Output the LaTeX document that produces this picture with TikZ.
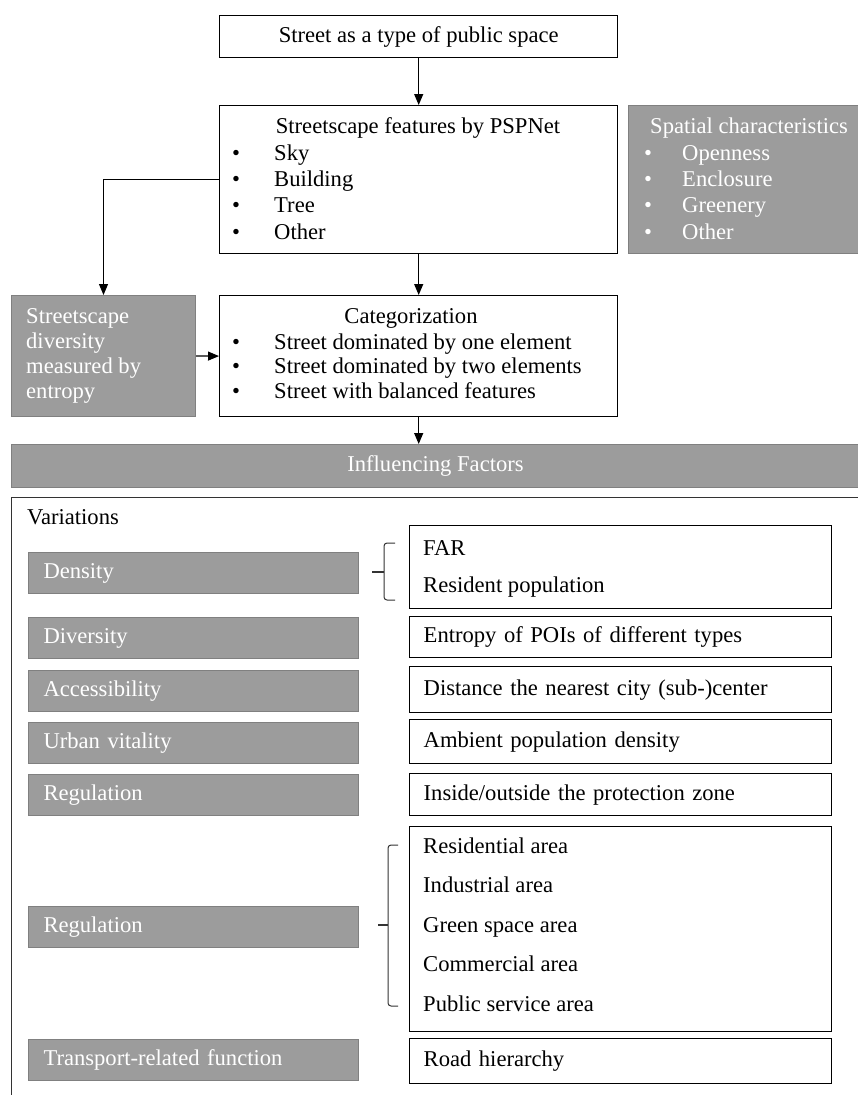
\documentclass[tikz,border=0pt]{standalone}
\usepackage{fontspec}
\setmainfont{Liberation Serif}
\usetikzlibrary{arrows.meta}
\definecolor{boxgrey}{HTML}{9C9C9C}
\definecolor{edgegrey}{HTML}{808080}
\definecolor{framegrey}{HTML}{333333}

\begin{document}
\begin{tikzpicture}[x=1pt, y=-1pt,
        font=\fontsize{22.6}{26}\selectfont,
        box/.style = {draw, line width=1.4pt, fill=white, anchor=north west, inner sep=0pt},
        greybox/.style = {draw=edgegrey, line width=1pt, fill=boxgrey, anchor=north west, inner sep=0pt, text=white},
        factor/.style = {greybox, minimum width=330, minimum height=41, text width=300, inner xsep=15, align=left},
        measure/.style = {box, minimum width=422, text width=394, inner xsep=14, align=left},
        item/.style = {anchor=base west, inner sep=0pt},
        arrow/.style = {line width=1.2pt, -{Triangle[length=11pt, width=9pt]}},
        brace/.style = {draw=framegrey, line width=1pt, rounded corners=3pt}]

    \useasboundingbox (0,0) rectangle (858,1095);
    \clip (0,0) rectangle (858,1095);

    % Street as public space
    \node[box, minimum width=398, minimum height=42] (street) at (219,15) {Street as a type of public space};

    % Streetscape features
    \node[box, minimum width=398, minimum height=148] (feat) at (219,105) {};
    \node[anchor=base, inner sep=0pt] (feat-t) at (418,133) {Streetscape features by PSPNet};
    \foreach \t [count=\i] in {Sky, Building, Tree, Other}
        \node[item] (feat-\i) at (232, {160+26.4*(\i-1)}) {\makebox[42pt][l]{\textbullet}\t};

    % Spatial characteristics
    \node[greybox, minimum width=232, minimum height=148] (spatial) at (628,105) {};
    \node[item, text=white] (spatial-t) at (650,133) {Spatial characteristics};
    \foreach \t [count=\i] in {Openness, Enclosure, Greenery, Other}
        \node[item, text=white] (spatial-\i) at (644, {160+26.4*(\i-1)}) {\makebox[38pt][l]{\textbullet}\t};

    % Diversity by entropy
    \node[greybox, minimum width=184, minimum height=121] (entropy) at (11,295) {};
    \foreach \t [count=\i] in {Streetscape, diversity, measured by, entropy}
        \node[item, text=white] (entropy-\i) at (26, {323+25*(\i-1)}) {\t};

    % Categorization
    \node[box, minimum width=398, minimum height=121] (cat) at (219,295) {};
    \node[anchor=base, inner sep=0pt] (cat-t) at (411,323) {Categorization};
    \foreach \t [count=\i] in {Street dominated by one element, Street dominated by two elements, Street with balanced features}
        \node[item] (cat-\i) at (232, {349+24.5*(\i-1)}) {\makebox[42pt][l]{\textbullet}\t};

    % Influencing factors bar
    \node[greybox, minimum width=848, minimum height=43] (factors) at (11,444) {Influencing Factors};

    % Frame of the variations
    \node[box, draw=framegrey, fill=none, minimum width=870, minimum height=640] (frame) at (11,497) {};
    \node[item] (var) at (27,524) {Variations};

    % Factors and their measures
    \node[factor] (density) at (28,552) {Density};
    \node[measure, minimum height=83] (density-m) at (409,525) {};
    \node[item] (far) at (423,555) {FAR};
    \node[item] (pop) at (423,592) {Resident population};

    \node[factor] (diversity) at (28,617) {Diversity};
    \node[measure, minimum height=41] (diversity-m) at (409,616) {Entropy of POIs of different types};

    \node[factor] (access) at (28,670) {Accessibility};
    \node[measure, minimum height=46] (access-m) at (409,666) {Distance the nearest city (sub-)center};

    \node[factor] (vitality) at (28,722) {Urban vitality};
    \node[measure, minimum height=44] (vitality-m) at (409,719) {Ambient population density};

    \node[factor] (zone) at (28,774) {Regulation};
    \node[measure, minimum height=42] (zone-m) at (409,773) {Inside/outside the protection zone};

    \node[factor] (landuse) at (28,906) {Regulation};
    \node[measure, minimum height=205] (landuse-m) at (409,826) {};
    \foreach \t [count=\i] in {Residential area, Industrial area, Green space area, Commercial area, Public service area}
        \node[item] (landuse-\i) at (423, {853+39.5*(\i-1)}) {\t};

    \node[factor] (transport) at (28,1039) {Transport-related function};
    \node[measure, minimum height=45] (transport-m) at (409,1038) {Road hierarchy};

    % Braces
    \draw[brace] (395,543) -| (384,600) -- (395,600);
    \draw[framegrey, line width=2pt] (372,572) -- (384,572);
    \draw[brace] (398,845) -| (388,1006) -- (398,1006);
    \draw[framegrey, line width=2pt] (378,925) -- (388,925);

    % Arrows
    \draw[arrow] (street) -- (feat);
    \draw[arrow] (feat.west) -| (entropy.north);
    \draw[arrow] (feat) -- (cat);
    \draw[arrow] (entropy) -- (cat);
    \draw[arrow] (cat.south) -- (cat.south |- factors.north);

\end{tikzpicture}
\end{document}
